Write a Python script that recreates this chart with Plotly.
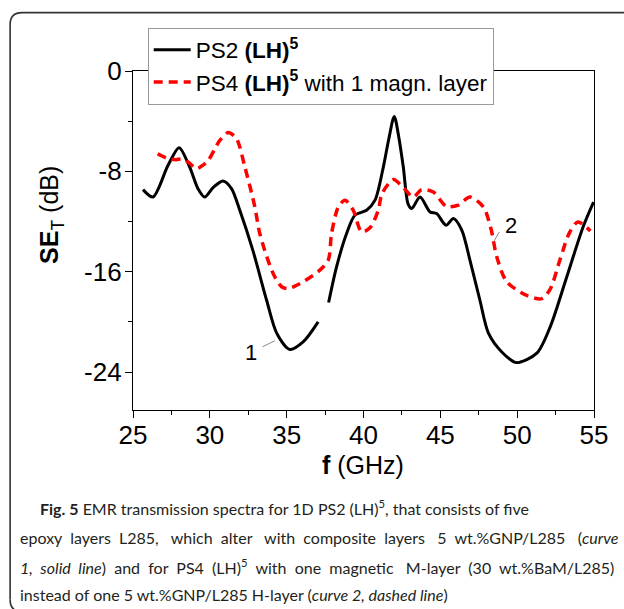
import plotly.graph_objects as go

# ---- data ----
f_ps2_a = [25.65, 26.3, 27.28, 28.0, 28.69, 29.23, 29.67, 30.21, 30.86, 31.41, 31.95, 32.8, 33.7, 34.35, 35.2, 36.07, 37.05]
se_ps2_a = [-9.46, -10.05, -7.52, -6.11, -7.66, -9.38, -10.05, -9.3, -8.77, -9.38, -11.1, -14.3, -18.3, -20.9, -22.2, -21.6, -20.0]
f_ps2_b = [37.73, 38.25, 38.9, 39.44, 40.2, 40.75, 41.29, 41.65, 42.0, 42.3, 42.59, 42.9, 43.14, 43.68, 44.33, 44.76, 45.37, 45.85, 46.4, 46.93, 47.58, 48.13, 49.0, 49.95, 51.28, 52.15, 53.23, 54.3, 54.97]
se_ps2_b = [-18.46, -15.6, -12.96, -11.5, -11.1, -10.3, -7.66, -5.4, -3.62, -5.3, -7.66, -10.6, -10.97, -10.05, -11.24, -11.37, -12.3, -11.77, -12.7, -15.1, -18.3, -20.9, -22.4, -23.25, -22.5, -20.4, -16.4, -12.4, -10.45]

f_ps4 = [26.6, 27.2, 27.8, 28.15, 28.58, 29.13, 29.56, 29.9, 30.65, 31.2, 31.74, 32.28, 32.93, 33.25, 34.12, 34.67, 35.1, 35.65, 36.07, 37.05, 37.7, 37.92, 38.36, 38.8, 39.33, 39.88, 40.42, 40.96, 41.2, 41.94, 42.59, 43.24, 43.78, 44.54, 45.4, 46.17, 46.93, 47.8, 48.3, 48.67, 49.32, 50.63, 51.6, 52.15, 52.8, 53.4, 53.95, 54.76]
se_ps4 = [-6.6, -6.95, -7.07, -7.02, -7.26, -7.79, -7.5, -7.13, -5.53, -4.9, -5.4, -7.66, -10.84, -12.96, -16.15, -17.2, -17.35, -17.08, -16.8, -16.0, -15.1, -12.96, -10.84, -10.3, -11.1, -12.83, -12.5, -11.1, -9.8, -8.66, -9.3, -10.05, -9.46, -9.65, -10.8, -10.7, -10.05, -10.84, -12.6, -14.8, -16.8, -17.9, -18.15, -17.4, -15.0, -12.9, -12.04, -12.75]

x_tickvals = [25, 30, 35, 40, 45, 50, 55]
x_ticktext = ["25", "30", "35", "40", "45", "50", "55"]
y_tickvals = [0, -8, -16, -24]
y_ticktext = ["0", "-8", "-16", "-24"]

# caption lines as word lists; (words, average extra spaces per gap for justified lines)
caption_words = [
    (["<b>Fig.", "5</b>", "EMR", "transmission", "spectra", "for", "1D", "PS2", "(LH)<sup>5</sup>,", "that", "consists", "of", "five"], 0),
    (["epoxy", "layers", "L285,", "which", "alter", "with", "composite", "layers", "5", "wt.%GNP/L285", "(<i>curve</i>"], 1.4),
    (["<i>1,", "solid", "line</i>)", "and", "for", "PS4", "(LH)<sup>5</sup>", "with", "one", "magnetic", "M-layer", "(30", "wt.%BaM/L285)"], 1.1),
    (["instead", "of", "one", "5", "wt.%GNP/L285", "H-layer", "(<i>curve", "2,", "dashed", "line</i>)"], 0),
]

# ---- layout geometry ----
W, H = 624, 609
L, R, T, B = 133.3, 594.0, 70.5, 410.0
pw, ph = R - L, B - T


def px(xp):
    return (xp - L) / pw


def py(yp):
    return (B - yp) / ph


def join_words(words, extra):
    out = words[0]
    acc = 0.0
    for w in words[1:]:
        acc += extra
        n = int(acc + 1e-9)
        acc -= n
        out += " " + "\u00a0" * n + w
    return out


FONT = "Liberation Sans, Arial, sans-serif"
CAPFONT = "Lato, sans-serif"

fig = go.Figure()
fig.add_trace(go.Scatter(
    x=f_ps2_a + [None] + f_ps2_b,
    y=se_ps2_a + [None] + se_ps2_b,
    mode="lines",
    line=dict(color="black", width=3, shape="spline", smoothing=0.8),
    connectgaps=False,
    name="PS2 <b>(LH)</b><sup><b>5</b></sup>",
))
fig.add_trace(go.Scatter(
    x=f_ps4, y=se_ps4,
    mode="lines",
    line=dict(color="#ff0000", width=3.5, dash="9px,6px", shape="spline", smoothing=0.8),
    name="PS4 <b>(LH)</b><sup><b>5</b></sup> with 1 magn. layer",
))

annotations = []
# curve labels
annotations.append(dict(x=32.67, y=-22.41, text="1", showarrow=False, xref="x", yref="y",
                        font=dict(family=FONT, size=22, color="black")))
annotations.append(dict(x=49.6, y=-12.3, text="2", showarrow=False, xref="x", yref="y",
                        font=dict(family=FONT, size=22, color="black")))
# axis titles
annotations.append(dict(x=px(52), y=py(215), xref="paper", yref="paper", showarrow=False,
                        xanchor="center", yanchor="middle",
                        text="<b>SE</b><sub>T</sub> (dB)", textangle=-90,
                        font=dict(family=FONT, size=25, color="black")))
annotations.append(dict(x=px(363.5), y=py(465), xref="paper", yref="paper", showarrow=False,
                        xanchor="center", yanchor="middle",
                        text="<b>f</b> (GHz)",
                        font=dict(family=FONT, size=25, color="black")))
# caption
cap_y = [508, 538, 567, 595]
cap_x = [38, 18, 18, 18]
for (words, extra), yy, xx in zip(caption_words, cap_y, cap_x):
    annotations.append(dict(x=px(xx), y=py(yy), xref="paper", yref="paper", showarrow=False,
                            xanchor="left", yanchor="middle", align="left",
                            text=join_words(words, extra),
                            font=dict(family=CAPFONT, size=16, color="#231f20")))

shapes = [
    # leader lines
    dict(type="line", xref="x", yref="y", x0=33.43, y0=-21.99, x1=34.23, y1=-21.51,
         line=dict(color="#888888", width=1)),
    dict(type="line", xref="x", yref="y", x0=48.5, y0=-13.55, x1=48.84, y1=-12.83,
         line=dict(color="#888888", width=1)),
    # outer rounded border of the figure panel
    dict(type="path", xref="paper", yref="paper",
         path=("M {a},{b} L {a},{c} Q {a},{d} {e},{d} L {f},{d}"
               .format(a=px(10.5), b=py(600), c=py(24), d=py(12), e=px(22.5), f=px(630))),
         line=dict(color="#333333", width=1.6)),
    dict(type="path", xref="paper", yref="paper",
         path=("M {a},{b} Q {a},{c} {d},{c}".format(a=px(10.5), b=py(600), c=py(612), d=px(22.5))),
         line=dict(color="#333333", width=1.6)),
]

fig.update_layout(
    width=W, height=H, autosize=False,
    margin=dict(l=L, r=W - R, t=T, b=H - B, pad=0),
    paper_bgcolor="white", plot_bgcolor="white",
    font=dict(family=FONT, color="black"),
    showlegend=True,
    legend=dict(x=px(148), y=py(27), xanchor="left", yanchor="top",
                bgcolor="white", bordercolor="#999999", borderwidth=1,
                font=dict(family=FONT, size=22.5, color="black"),
                itemwidth=37, tracegroupgap=0),
    annotations=annotations,
    shapes=shapes,
)
fig.update_xaxes(range=[25, 55], tickvals=x_tickvals, ticktext=x_ticktext,
                 showline=True, linecolor="black", linewidth=1.3, mirror=True,
                 ticks="outside", ticklen=7, tickwidth=1.3, tickcolor="black",
                 ticklabelstandoff=-5,
                 minor=dict(dtick=2.5, tick0=25, ticks="outside", ticklen=4, tickwidth=1.3, tickcolor="black"),
                 showgrid=False, zeroline=False,
                 tickfont=dict(family=FONT, size=26, color="black"))
fig.update_yaxes(range=[-27.03, 0], tickvals=y_tickvals, ticktext=y_ticktext,
                 showline=True, linecolor="black", linewidth=1.3, mirror=True,
                 ticks="outside", ticklen=7, tickwidth=1.3, tickcolor="black",
                 ticklabelstandoff=-2,
                 minor=dict(dtick=4, tick0=0, ticks="outside", ticklen=4, tickwidth=1.3, tickcolor="black"),
                 showgrid=False, zeroline=False,
                 tickfont=dict(family=FONT, size=26, color="black"))

fig.write_html("out.html")
